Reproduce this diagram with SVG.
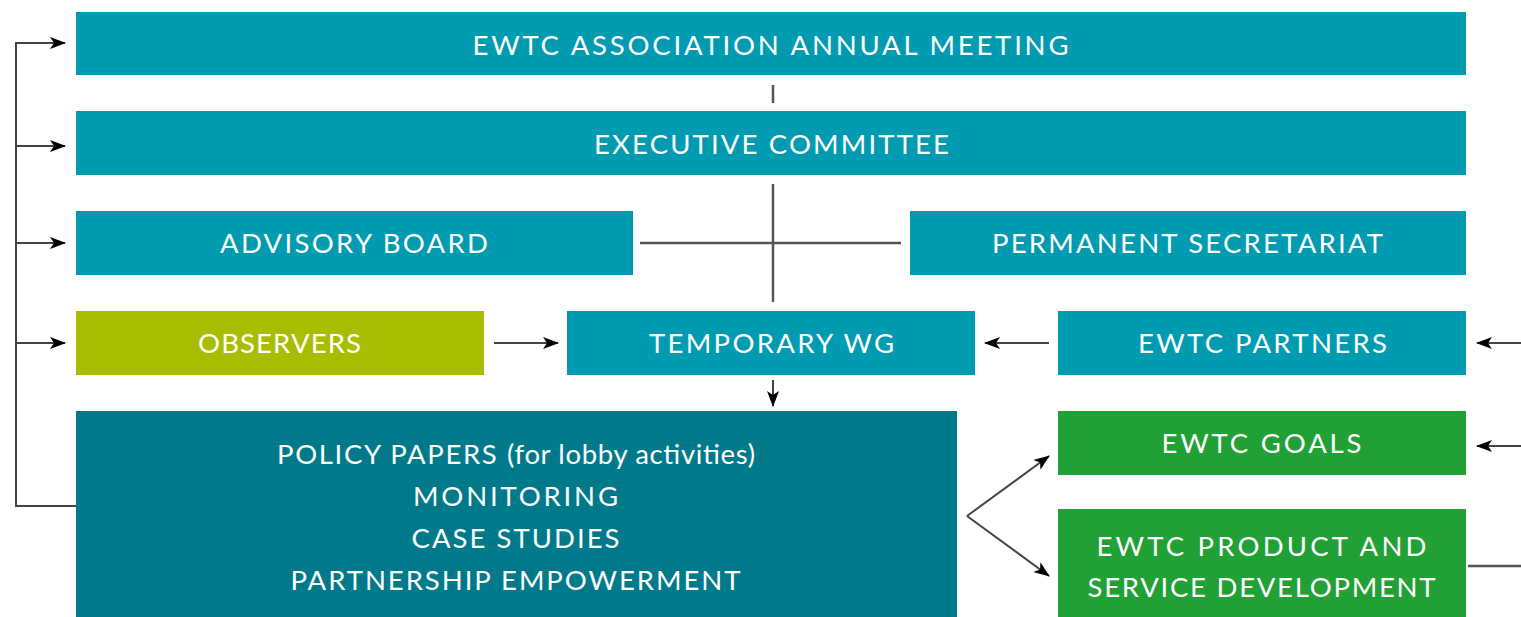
<svg xmlns="http://www.w3.org/2000/svg" width="1521" height="617" viewBox="0 0 1521 617">
<style>
.t{font-family:"Lato","Open Sans","Liberation Sans",sans-serif;font-size:27.5px;fill:#ffffff;text-anchor:middle;letter-spacing:1px}
.c{fill:#009bb1}
.ln{stroke:#444;stroke-width:2;fill:none}
.cx{stroke:#555;stroke-width:2.5;fill:none}
</style>
<defs>
<marker id="ah" viewBox="0 0 16 12" refX="15" refY="6" markerWidth="16" markerHeight="12" markerUnits="userSpaceOnUse" orient="auto">
<path d="M0,0 L16,6 L0,12 L4,6 Z" fill="#000"/>
</marker>
</defs>
<rect width="1521" height="617" fill="#ffffff"/>
<g id="connectors">
<path class="ln" d="M76,506 H16 V43 H65" marker-end="url(#ah)"/>
<path class="ln" d="M16,146 H65" marker-end="url(#ah)"/>
<path class="ln" d="M16,243 H65" marker-end="url(#ah)"/>
<path class="ln" d="M16,343 H65" marker-end="url(#ah)"/>
<path class="cx" d="M773,85 V103"/>
<path class="cx" d="M773,184 V302"/>
<path class="cx" d="M640,243 H901"/>
<path class="ln" d="M773,380 V406" marker-end="url(#ah)"/>
<path class="ln" d="M494,343 H558" marker-end="url(#ah)"/>
<path class="ln" d="M1049,343 H985" marker-end="url(#ah)"/>
<path class="ln" d="M1521,343 H1477" marker-end="url(#ah)"/>
<path class="ln" d="M1521,446 H1477" marker-end="url(#ah)"/>
<path class="cx" d="M1468,566 H1521"/>
<path class="ln" d="M967,516 L1049,456" marker-end="url(#ah)"/>
<path class="ln" d="M967,516 L1049,576" marker-end="url(#ah)"/>
</g>
<g id="annual-meeting"><rect class="c" x="76" y="12" width="1390" height="63"/><text class="t" x="771" y="55" textLength="597" lengthAdjust="spacing">EWTC ASSOCIATION ANNUAL MEETING</text></g>
<g id="executive-committee"><rect class="c" x="76" y="111" width="1390" height="64"/><text class="t" x="772" y="154" textLength="356" lengthAdjust="spacing">EXECUTIVE COMMITTEE</text></g>
<g id="advisory-board"><rect class="c" x="76" y="211" width="557" height="64"/><text class="t" x="354.5" y="253" textLength="269" lengthAdjust="spacing">ADVISORY BOARD</text></g>
<g id="permanent-secretariat"><rect class="c" x="910" y="211" width="556" height="64"/><text class="t" x="1188" y="253" textLength="392" lengthAdjust="spacing">PERMANENT SECRETARIAT</text></g>
<g id="observers"><rect x="76" y="311" width="408" height="64" fill="#a8bd00"/><text class="t" x="280" y="353" textLength="164" lengthAdjust="spacing">OBSERVERS</text></g>
<g id="temporary-wg"><rect class="c" x="567" y="311" width="408" height="64"/><text class="t" x="772" y="353" textLength="246" lengthAdjust="spacing">TEMPORARY WG</text></g>
<g id="ewtc-partners"><rect class="c" x="1058" y="311" width="408" height="64"/><text class="t" x="1263" y="353" textLength="250" lengthAdjust="spacing">EWTC PARTNERS</text></g>
<g id="outputs"><rect x="76" y="411" width="881" height="206" fill="#007a8b"/>
<text class="t" x="516" y="464" textLength="478" lengthAdjust="spacing">POLICY PAPERS <tspan style="letter-spacing:0">(for lobby activities)</tspan></text>
<text class="t" x="516" y="506" textLength="206" lengthAdjust="spacing">MONITORING</text>
<text class="t" x="516" y="548" textLength="209" lengthAdjust="spacing">CASE STUDIES</text>
<text class="t" x="516" y="590" textLength="451" lengthAdjust="spacing">PARTNERSHIP EMPOWERMENT</text></g>
<g id="ewtc-goals"><rect x="1058" y="411" width="408" height="64" fill="#21a035"/><text class="t" x="1262" y="453" textLength="201" lengthAdjust="spacing">EWTC GOALS</text></g>
<g id="ewtc-product"><rect x="1058" y="509" width="408" height="108" fill="#21a035"/><text class="t" x="1262" y="556" textLength="331" lengthAdjust="spacing">EWTC PRODUCT AND</text><text class="t" x="1262" y="597" textLength="349" lengthAdjust="spacing">SERVICE DEVELOPMENT</text></g>
</svg>
